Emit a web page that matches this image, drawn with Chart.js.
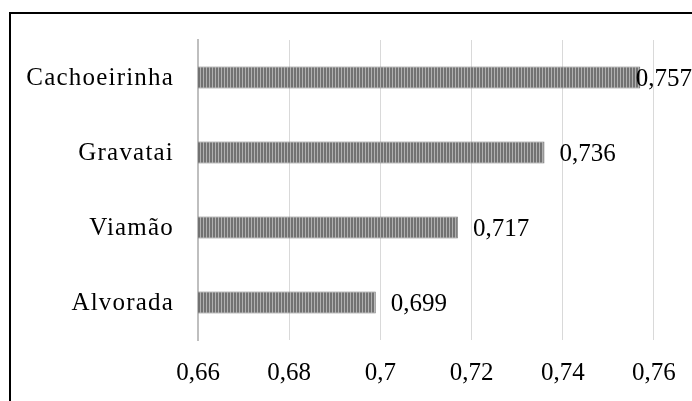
<!DOCTYPE html>
<html>
<head>
<meta charset="utf-8">
<script src="https://cdn.jsdelivr.net/npm/chart.js@4.4.1/dist/chart.umd.min.js"></script>
<style>
  html, body { margin: 0; padding: 0; background: #fff; overflow: hidden; }
  body { width: 692px; height: 401px; position: relative; }
  #frame { position: absolute; left: 9px; top: 12px; width: 900px; height: 600px; border: 2px solid #000; box-sizing: border-box; }
  #wrap { position: absolute; left: 0; top: 0; width: 785px; height: 401px; }
</style>
</head>
<body>
<div id="frame"></div>
<div id="wrap"><canvas id="barChart"></canvas></div>
<script>
const cities = ['Cachoeirinha', 'Gravatai', 'Viamão', 'Alvorada'];
const values = [0.757, 0.736, 0.717, 0.699];
const tickValues = [0.66, 0.68, 0.70, 0.72, 0.74, 0.76, 0.78];

const fontFamily = '"Liberation Serif", "Times New Roman", serif';

function stripes() {
    const c = document.createElement('canvas');
    c.width = 3;
    c.height = 4;
    const g = c.getContext('2d');
    g.fillStyle = '#727272';
    g.fillRect(0, 0, 2, 4);
    g.fillStyle = '#b0b0b0';
    g.fillRect(2, 0, 1, 4);
    return g.createPattern(c, 'repeat');
}

function fmt(v) {
    return String(+v.toFixed(3)).replace('.', ',');
}

// value labels at the end of each bar, plus the category names (drawn here for letter spacing)
const textLabels = {
    id: 'textLabels',
    afterDatasetsDraw(chart) {
        const ctx = chart.ctx;
        const meta = chart.getDatasetMeta(0);
        ctx.save();
        ctx.font = '25px ' + fontFamily;
        ctx.fillStyle = '#000';
        ctx.textBaseline = 'middle';
        ctx.textAlign = 'left';
        meta.data.forEach(function (bar, i) {
            const txt = fmt(values[i]);
            const w = ctx.measureText(txt).width;
            const x = Math.min(bar.x + 15, 692 - w);
            ctx.fillText(txt, x, bar.y + 2);
        });

        const yScale = chart.scales.y;
        ctx.letterSpacing = '1.2px';
        ctx.textAlign = 'right';
        cities.forEach(function (name, i) {
            ctx.fillText(name, yScale.right - 24, yScale.getPixelForTick(i) + 1);
        });
        ctx.restore();
    }
};

document.addEventListener('DOMContentLoaded', function () {
    const ctx = document.getElementById('barChart').getContext('2d');
    new Chart(ctx, {
        type: 'bar',
        data: {
            labels: cities,
            datasets: [{
                data: values,
                backgroundColor: stripes(),
                borderColor: '#7a7a7a',
                borderWidth: 1,
                borderSkipped: false,
                barPercentage: 0.6,
                categoryPercentage: 0.49
            }]
        },
        options: {
            indexAxis: 'y',
            responsive: true,
            maintainAspectRatio: false,
            animation: false,
            layout: { padding: { left: 0, top: 40, right: 36, bottom: 0 } },
            plugins: {
                legend: { display: false },
                tooltip: { enabled: false }
            },
            scales: {
                x: {
                    min: 0.66,
                    max: 0.78,
                    afterBuildTicks: function (scale) {
                        scale.ticks = tickValues.map(function (v) { return { value: v }; });
                    },
                    afterFit: function (scale) { scale.height = 61; },
                    grid: {
                        color: '#d9d9d9',
                        lineWidth: 1,
                        drawTicks: false
                    },
                    border: { display: false },
                    ticks: {
                        color: '#000',
                        font: { family: fontFamily, size: 25 },
                        padding: 18,
                        callback: function (v) { return fmt(v); }
                    }
                },
                y: {
                    afterFit: function (scale) { scale.width = 198; },
                    grid: { display: false, drawTicks: false },
                    border: { display: true, color: '#bfbfbf', width: 2 },
                    ticks: { display: false }
                }
            }
        },
        plugins: [textLabels]
    });
});
</script>
</body>
</html>
